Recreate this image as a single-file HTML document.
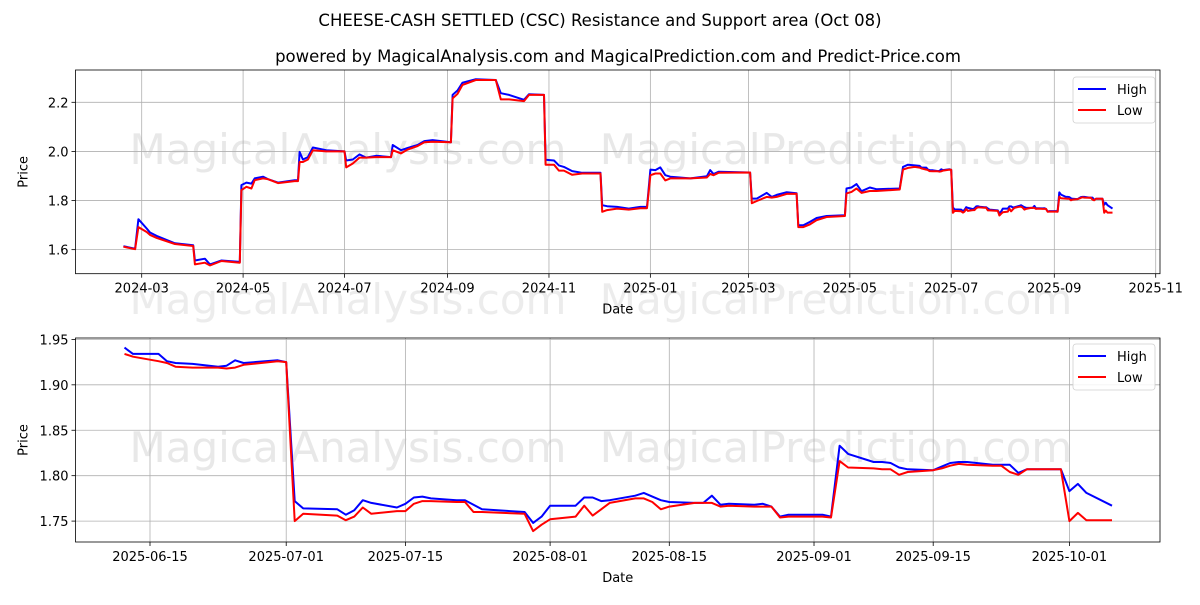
<!DOCTYPE html>
<html><head><meta charset="utf-8"><style>
body{margin:0;background:#fff}
svg text{font-family:"DejaVu Sans","Liberation Sans",sans-serif}
</style></head><body>
<svg id="c" width="1200" height="600" xmlns="http://www.w3.org/2000/svg">
<rect width="1200" height="600" fill="#fff"/>
<text x="348" y="314" font-size="42" fill="#ececec" text-anchor="middle">MagicalAnalysis.com</text>
<text x="836" y="314" font-size="42" fill="#ececec" text-anchor="middle">MagicalPrediction.com</text>
<text x="600" y="26" font-size="16.5" text-anchor="middle">CHEESE-CASH SETTLED (CSC) Resistance and Support area (Oct 08)</text>
<text x="618" y="62" font-size="16.5" text-anchor="middle">powered by MagicalAnalysis.com and MagicalPrediction.com and Predict-Price.com</text>
<g id="top"></g>
<g id="bot"></g>
</svg>
<script>
const topDates=["2024-02-19","2024-02-26","2024-02-28","2024-03-04","2024-03-06","2024-03-10","2024-03-21","2024-04-01","2024-04-02","2024-04-08","2024-04-11","2024-04-18","2024-04-29","2024-04-30","2024-05-03","2024-05-06","2024-05-08","2024-05-13","2024-05-16","2024-05-22","2024-06-01","2024-06-03","2024-06-04","2024-06-06","2024-06-09","2024-06-12","2024-06-20","2024-07-01","2024-07-02","2024-07-06","2024-07-10","2024-07-14","2024-07-20","2024-07-29","2024-07-30","2024-08-04","2024-08-08","2024-08-14","2024-08-18","2024-08-23","2024-09-03","2024-09-04","2024-09-07","2024-09-10","2024-09-18","2024-09-30","2024-10-03","2024-10-08","2024-10-17","2024-10-20","2024-10-29","2024-10-30","2024-11-04","2024-11-07","2024-11-10","2024-11-15","2024-11-21","2024-12-02","2024-12-03","2024-12-06","2024-12-12","2024-12-19","2024-12-26","2024-12-30","2025-01-01","2025-01-04","2025-01-07","2025-01-10","2025-01-13","2025-01-25","2025-02-04","2025-02-06","2025-02-08","2025-02-11","2025-03-02","2025-03-03","2025-03-06","2025-03-12","2025-03-15","2025-03-18","2025-03-24","2025-03-30","2025-03-31","2025-04-03","2025-04-07","2025-04-11","2025-04-17","2025-04-28","2025-04-29","2025-05-02","2025-05-05","2025-05-08","2025-05-13","2025-05-17","2025-05-31","2025-06-02","2025-06-05","2025-06-09"];
const topHigh=[1.614,1.604,1.724,1.686,1.670,1.656,1.626,1.618,1.556,1.563,1.540,1.556,1.550,1.863,1.873,1.869,1.890,1.897,1.887,1.873,1.883,1.883,1.998,1.967,1.977,2.016,2.005,2.0,1.963,1.967,1.988,1.975,1.982,1.977,2.026,2.005,2.014,2.026,2.042,2.046,2.037,2.230,2.248,2.280,2.294,2.291,2.237,2.230,2.210,2.233,2.230,1.966,1.963,1.943,1.937,1.920,1.913,1.913,1.781,1.777,1.774,1.767,1.774,1.774,1.926,1.924,1.935,1.903,1.897,1.890,1.899,1.924,1.908,1.917,1.914,1.808,1.808,1.831,1.815,1.823,1.834,1.830,1.699,1.699,1.713,1.729,1.737,1.740,1.849,1.853,1.867,1.838,1.853,1.846,1.849,1.937,1.946,1.943];
const topLow=[1.612,1.602,1.692,1.672,1.660,1.648,1.623,1.615,1.540,1.547,1.536,1.554,1.547,1.842,1.856,1.849,1.883,1.890,1.887,1.871,1.879,1.879,1.957,1.957,1.967,2.005,2.0,2.0,1.935,1.951,1.975,1.975,1.977,1.977,2.005,1.992,2.008,2.022,2.037,2.039,2.037,2.216,2.234,2.271,2.291,2.291,2.212,2.212,2.205,2.230,2.230,1.946,1.946,1.922,1.922,1.905,1.910,1.910,1.754,1.761,1.767,1.763,1.769,1.769,1.903,1.910,1.910,1.882,1.890,1.890,1.894,1.908,1.903,1.913,1.914,1.789,1.798,1.815,1.812,1.815,1.827,1.828,1.692,1.692,1.703,1.720,1.733,1.737,1.829,1.835,1.849,1.831,1.839,1.839,1.845,1.926,1.933,1.937];
const botDates=["2025-06-12","2025-06-13","2025-06-16","2025-06-17","2025-06-18","2025-06-20","2025-06-23","2025-06-24","2025-06-25","2025-06-26","2025-06-30","2025-07-01","2025-07-02","2025-07-03","2025-07-07","2025-07-08","2025-07-09","2025-07-10","2025-07-11","2025-07-14","2025-07-15","2025-07-16","2025-07-17","2025-07-18","2025-07-21","2025-07-22","2025-07-23","2025-07-24","2025-07-29","2025-07-30","2025-07-31","2025-08-01","2025-08-04","2025-08-05","2025-08-06","2025-08-07","2025-08-08","2025-08-11","2025-08-12","2025-08-13","2025-08-14","2025-08-15","2025-08-18","2025-08-19","2025-08-20","2025-08-21","2025-08-22","2025-08-25","2025-08-26","2025-08-27","2025-08-28","2025-08-29","2025-09-02","2025-09-03","2025-09-04","2025-09-05","2025-09-08","2025-09-09","2025-09-10","2025-09-11","2025-09-12","2025-09-15","2025-09-16","2025-09-17","2025-09-18","2025-09-19","2025-09-22","2025-09-23","2025-09-24","2025-09-25","2025-09-26","2025-09-29","2025-09-30","2025-10-01","2025-10-02","2025-10-03","2025-10-06"];
const botHigh=[1.941,1.934,1.934,1.926,1.924,1.923,1.920,1.921,1.927,1.924,1.927,1.925,1.772,1.764,1.763,1.757,1.762,1.773,1.770,1.765,1.769,1.776,1.777,1.775,1.773,1.773,1.768,1.763,1.760,1.748,1.755,1.767,1.767,1.776,1.776,1.772,1.773,1.778,1.781,1.777,1.773,1.771,1.770,1.770,1.778,1.768,1.769,1.768,1.769,1.766,1.755,1.757,1.757,1.755,1.833,1.824,1.815,1.815,1.814,1.809,1.807,1.806,1.810,1.814,1.815,1.815,1.812,1.812,1.812,1.803,1.807,1.807,1.807,1.783,1.791,1.781,1.767];
const botLow=[1.934,1.931,1.926,1.924,1.920,1.919,1.919,1.918,1.919,1.922,1.926,1.925,1.750,1.758,1.756,1.751,1.755,1.765,1.758,1.761,1.761,1.769,1.772,1.772,1.771,1.771,1.760,1.760,1.758,1.739,1.746,1.752,1.755,1.767,1.756,1.763,1.770,1.775,1.775,1.771,1.763,1.766,1.770,1.770,1.770,1.766,1.767,1.766,1.766,1.766,1.754,1.755,1.755,1.754,1.816,1.809,1.808,1.807,1.807,1.801,1.804,1.806,1.808,1.811,1.813,1.812,1.811,1.811,1.804,1.801,1.807,1.807,1.807,1.750,1.759,1.751,1.751];
const topYTicks=[1.6,1.8,2.0,2.2];
const topXTicks=["2024-03-01","2024-05-01","2024-07-01","2024-09-01","2024-11-01","2025-01-01","2025-03-01","2025-05-01","2025-07-01","2025-09-01","2025-11-01"];
const botYTicks=[1.75,1.80,1.85,1.90,1.95];
const botXTicks=["2025-06-15","2025-07-01","2025-07-15","2025-08-01","2025-08-15","2025-09-01","2025-09-15","2025-10-01"];

const NS="http://www.w3.org/2000/svg";
const dnum=s=>Date.UTC(+s.slice(0,4),+s.slice(5,7)-1,+s.slice(8,10))/86400000;
const T0=dnum("2024-03-01"),B0=dnum("2025-06-15");
const xT=s=>141.7+(dnum(s)-T0)*1.6623;
const yT=v=>102.3+(2.2-v)*245.6;
const xB=s=>150+(dnum(s)-B0)*8.513;
const yB=v=>339.4+(1.95-v)*908.5;
function mk(p,tag,a){const e=document.createElementNS(NS,tag);for(const k in a)e.setAttribute(k,a[k]);p.appendChild(e);return e;}

function panel(g,box,xs,xf,yf,xt,yt,ylabFmt,dates,hi,lo,legY,wmY){
  const w1=mk(g,"text",{x:348,y:wmY,"font-size":42,fill:"#e8e8e8","text-anchor":"middle"});w1.textContent="MagicalAnalysis.com";
  
  
  const w2=mk(g,"text",{x:836,y:wmY,"font-size":42,fill:"#e8e8e8","text-anchor":"middle"});w2.textContent="MagicalPrediction.com";
  
  
  xt.forEach(t=>{const x=xf(t);
    const l=mk(g,"line",{x1:x,x2:x,y1:box[1],y2:box[3],stroke:"#b0b0b0","stroke-width":0.8});
    
    
    mk(g,"line",{x1:x,x2:x,y1:box[3],y2:box[3]+4,stroke:"#000","stroke-width":0.8});
    const tx=mk(g,"text",{x:x,y:box[3]+19,"font-size":13,"text-anchor":"middle"});tx.textContent=t.slice(0,xs);
    
    });
  yt.forEach(v=>{const y=yf(v);
    const l=mk(g,"line",{x1:box[0],x2:box[2],y1:y,y2:y,stroke:"#b0b0b0","stroke-width":0.8});
    
    
    mk(g,"line",{x1:box[0]-4,x2:box[0],y1:y,y2:y,stroke:"#000","stroke-width":0.8});
    const tx=mk(g,"text",{x:box[0]-7,y:y+5,"font-size":13,"text-anchor":"end"});tx.textContent=v.toFixed(ylabFmt);
    
    });
  const ph=mk(g,"polyline",{points:dates.map((d,i)=>xf(d).toFixed(1)+","+yf(hi[i]).toFixed(1)).join(" "),fill:"none",stroke:"#0000ff","stroke-width":2,"stroke-linejoin":"round"});
  
  
  const pl=mk(g,"polyline",{points:dates.map((d,i)=>xf(d).toFixed(1)+","+yf(lo[i]).toFixed(1)).join(" "),fill:"none",stroke:"#ff0000","stroke-width":2,"stroke-linejoin":"round"});
  
  
  const fr=mk(g,"rect",{x:box[0],y:box[1],width:box[2]-box[0],height:box[3]-box[1],fill:"none",stroke:"#000","stroke-width":0.8});
  
  
  const xl=mk(g,"text",{x:(box[0]+box[2])/2,y:box[3]+40,"font-size":13,"text-anchor":"middle"});xl.textContent="Date";
  
  
  const cy=(box[1]+box[3])/2;
  const yl=mk(g,"text",{x:0,y:0,"font-size":13,"text-anchor":"middle",transform:`translate(${box[0]-48},${cy}) rotate(-90)`});yl.textContent="Price";
  
  
  const lg=mk(g,"g",{});
  
  
  mk(lg,"rect",{x:1073,y:legY,width:82,height:46,rx:3,fill:"#fff","fill-opacity":0.85,stroke:"#d0d0d0","stroke-width":0.8});
  mk(lg,"line",{x1:1078,x2:1106,y1:legY+12,y2:legY+12,stroke:"#0000ff","stroke-width":2});
  const t1=mk(lg,"text",{x:1117,y:legY+17,"font-size":13});t1.textContent="High";
  
  
  mk(lg,"line",{x1:1078,x2:1106,y1:legY+33,y2:legY+33,stroke:"#ff0000","stroke-width":2});
  const t2=mk(lg,"text",{x:1117,y:legY+38,"font-size":13});t2.textContent="Low";
  
  
}
const allD=topDates.concat(botDates),allH=topHigh.concat(botHigh),allL=topLow.concat(botLow);
panel(document.getElementById("top"),[75.5,70,1160,273.7],7,xT,yT,topXTicks,topYTicks,1,allD,allH,allL,77,164);
panel(document.getElementById("bot"),[75.5,338,1160,542],10,xB,yB,botXTicks,botYTicks,2,botDates,botHigh,botLow,344,462);
</script>
</body></html>
